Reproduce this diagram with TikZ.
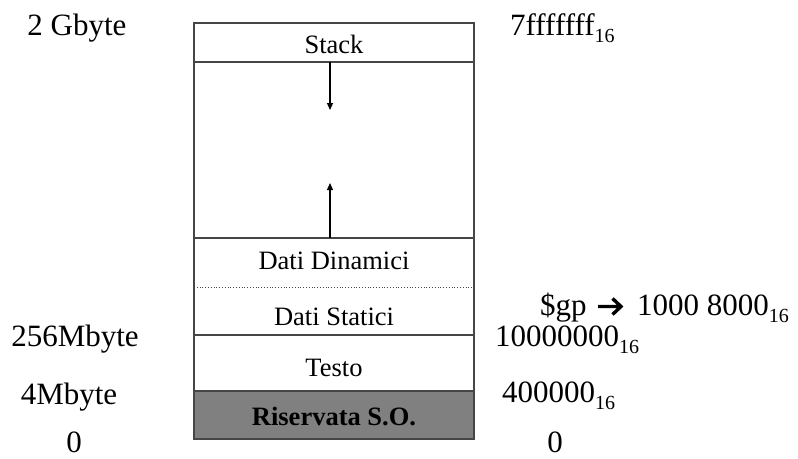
\documentclass[tikz,border=0pt]{standalone}
\usepackage{fontspec}
\setmainfont{Liberation Serif}
\usetikzlibrary{arrows.meta}
\definecolor{linegray}{RGB}{70,70,70}
\definecolor{osgray}{RGB}{128,128,128}
\newcommand\sxt{\raisebox{-7pt}{\fontsize{20}{20}\selectfont 16}}
\tikzset{
  seg/.style={draw=linegray, line width=1.3pt},
  boxlabel/.style={anchor=base, inner sep=0pt, font=\fontsize{26.5}{26.5}\selectfont},
  sidelabel/.style={anchor=base, inner sep=0pt, font=\fontsize{31}{31}\selectfont},
  addrlabel/.style={anchor=base west, inner sep=0pt, font=\fontsize{31}{31}\selectfont},
  growarrow/.style={black, line width=1.2pt, -{Triangle[width=6pt,length=7pt]}},
  boldarrow/.style={black, line width=3.4pt, line join=miter}
}
\begin{document}
\begin{tikzpicture}[x=1pt,y=-1pt]
\useasboundingbox (0,0) rectangle (798,458);
% regions
\fill[osgray] (194,391) rectangle (474,439);
\draw[seg] (194,23) rectangle (474,439);
\draw[seg] (194,62) -- (474,62);
\draw[seg] (194,238) -- (474,238);
\draw[draw=linegray, line width=0.8pt, dotted] (194,287) -- (474,287);
\draw[seg] (194,335) -- (474,335);
\draw[seg] (194,391) -- (474,391);
% arrows
\coordinate (sd0) at (330,62);
\coordinate (sd1) at (330,110);
\coordinate (hu0) at (330,238);
\coordinate (hu1) at (330,183);
\draw[growarrow] (sd0) -- (sd1);
\draw[growarrow] (hu0) -- (hu1);
% box labels
\node[boxlabel] (stack) at (334,53) {Stack};
\node[boxlabel] (dyn) at (334,269) {Dati Dinamici};
\node[boxlabel] (stat) at (334,325) {Dati Statici};
\node[boxlabel] (text) at (334,376) {Testo};
\node[boxlabel] (os) at (334,425) {\bfseries Riservata S.O.};
% left labels
\node[sidelabel] (g2) at (77,35) {2 Gbyte};
\node[sidelabel] (m256) at (75,346) {256Mbyte};
\node[sidelabel] (m4) at (69,404) {4Mbyte};
\node[sidelabel] (z0) at (74,452) {0};
% right labels
\node[addrlabel] (a1) at (510,35) {7fffffff\sxt};
\node[addrlabel] (gp) at (540,315) {\$gp};
\coordinate (gpa0) at (598,306.5);
\coordinate (gpa1) at (621,306.5);
\draw[boldarrow] (gpa0) -- (gpa1) (612.5,298.5) -- (gpa1) -- (612.5,314.5);
\node[addrlabel] (gpv) at (637,315) {1000 8000\sxt};
\node[addrlabel] (a2) at (495,346) {10000000\sxt};
\node[addrlabel] (a3) at (502,402) {400000\sxt};
\node[sidelabel] (a4) at (555,452) {0};
\end{tikzpicture}
\end{document}
